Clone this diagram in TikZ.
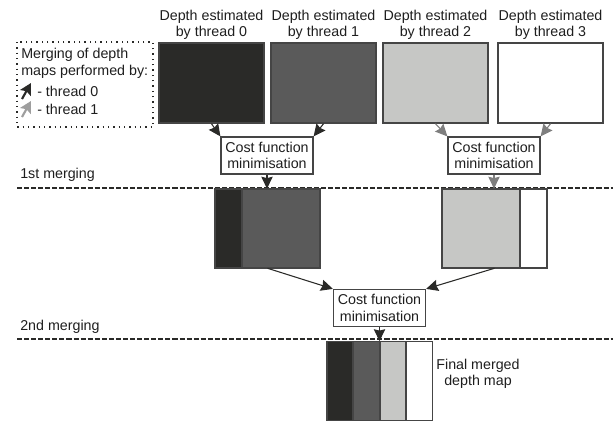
\documentclass[tikz,border=0pt]{standalone}
\usepackage{fontspec}
\setmainfont{Liberation Sans}
\usetikzlibrary{arrows.meta}
\definecolor{cblack}{HTML}{2A2A28}
\definecolor{cdark}{HTML}{5A5A5A}
\definecolor{clight}{HTML}{C6C7C5}
\definecolor{cedge}{HTML}{454545}
\definecolor{ctext}{HTML}{1E1E1E}
\definecolor{cgrayarrow}{HTML}{7E7E7E}
\begin{document}
\begin{tikzpicture}[x=0.75pt,y=-0.75pt,
  every node/.style={font=\fontsize{10.7}{12.3}\selectfont,text=ctext},
  mapbox/.style={draw=cedge,line width=1.1pt,inner sep=0pt,minimum width=78.75pt,minimum height=60pt},
  strip/.style={draw=cedge,line width=1.1pt,inner sep=0pt,minimum height=59.25pt},
  holder/.style={inner sep=0pt,minimum width=78.75pt,minimum height=59.25pt},
  costbox/.style={draw=cedge,line width=0.9pt,fill=white,inner sep=0pt,minimum width=69pt,minimum height=27.75pt,align=center},
  lbl/.style={align=center,inner sep=0pt},
  arr/.style={-{Stealth[length=9pt,width=8.5pt,inset=1pt]},line width=0.8pt,draw=cblack},
  garr/.style={-{Stealth[length=9pt,width=8.5pt,inset=1pt]},line width=0.8pt,draw=cgrayarrow},
  legarr/.style={-{Stealth[length=8.5pt,width=9pt,inset=1.5pt]},line width=1.6pt},
  sep/.style={draw=cblack,line width=1.1pt,dash pattern=on 3.8pt off 1.5pt},
  legendbox/.style={draw=cblack,line width=1.1pt,dash pattern=on 1.1pt off 2.9pt}
]
\useasboundingbox (0,0) rectangle (613,421);

% legend
\draw[legendbox] (17,42) rectangle (153,127);
\node[anchor=west,inner sep=0pt] (lg1) at (21,55) {Merging of depth};
\node[anchor=west,inner sep=0pt] (lg2) at (21,72) {maps performed by:};
\coordinate (la0s) at (22,99);
\coordinate (la0e) at (31,83);
\coordinate (la1s) at (22,117);
\coordinate (la1e) at (31,101);
\draw[legarr,draw=cblack] (la0s) -- (la0e);
\draw[legarr,draw=cgrayarrow!75] (la1s) -- (la1e);
\node[anchor=west,inner sep=0pt] (lt0) at (37,91) {- thread 0};
\node[anchor=west,inner sep=0pt] (lt1) at (37,109) {- thread 1};

% top labels
\node[lbl] (t0) at (211.5,25) {Depth estimated\\by thread 0};
\node[lbl] (t1) at (323.5,25) {Depth estimated\\by thread 1};
\node[lbl] (t2) at (435.5,25) {Depth estimated\\by thread 2};
\node[lbl] (t3) at (550.5,25) {Depth estimated\\by thread 3};

% top boxes
\node[mapbox,fill=cblack] (b0) at (211.5,83) {};
\node[mapbox,fill=cdark] (b1) at (323.5,83) {};
\node[mapbox,fill=clight] (b2) at (435.5,83) {};
\node[mapbox,fill=white] (b3) at (550.5,83) {};

% first cost boxes
\node[costbox] (c1) at (267,155.5) {Cost function\\minimisation};
\node[costbox] (c2) at (494,155.5) {Cost function\\minimisation};

\draw[arr] (b0.south) -- (c1.north west);
\draw[arr] (b1.south) -- (c1.north east);
\draw[garr] (b2.south) -- (c2.north west);
\draw[garr] (b3.south) -- (c2.north east);

% separator 1
\node[anchor=west,inner sep=0pt] (s1) at (20,175) {1st merging};
\coordinate (d1a) at (17,188);
\coordinate (d1b) at (613,188);
\draw[sep] (d1a) -- (d1b);

% middle composites
\node[strip,fill=cblack,minimum width=20.25pt] (m1a) at (228.5,228.5) {};
\node[strip,fill=cdark,minimum width=58.5pt] (m1b) at (281,228.5) {};
\node[holder] (m1) at (267.5,228.5) {};
\node[strip,fill=clight,minimum width=58.5pt] (m2a) at (481,228.5) {};
\node[strip,fill=white,minimum width=20.25pt] (m2b) at (533.5,228.5) {};
\node[holder] (m2) at (494.5,228.5) {};

\draw[arr] (c1.south) -- (c1.south |- m1.north);
\draw[garr] (c2.south) -- (c2.south |- m2.north);

% second cost box
\node[costbox] (c3) at (379.5,308) {Cost function\\minimisation};
\draw[arr] (m1.south) -- (c3.north west);
\draw[arr] (m2.south) -- (c3.north east);

% separator 2
\node[anchor=west,inner sep=0pt] (s2) at (20,327) {2nd merging};
\coordinate (d2a) at (17,339);
\coordinate (d2b) at (613,339);
\draw[sep] (d2a) -- (d2b);

% final
\node[strip,fill=cblack,minimum width=19.7pt] (f1) at (340,381) {};
\node[strip,fill=cdark,minimum width=19.7pt] (f2) at (366.5,381) {};
\node[strip,fill=clight,minimum width=19.7pt] (f3) at (393,381) {};
\node[strip,fill=white,minimum width=19.7pt] (f4) at (419.5,381) {};
\node[holder] (f) at (379.5,381) {};
\draw[arr] (c3.south) -- (c3.south |- f.north);
\node[lbl] (fl) at (478,374) {Final merged\\depth map};
\end{tikzpicture}
\end{document}
